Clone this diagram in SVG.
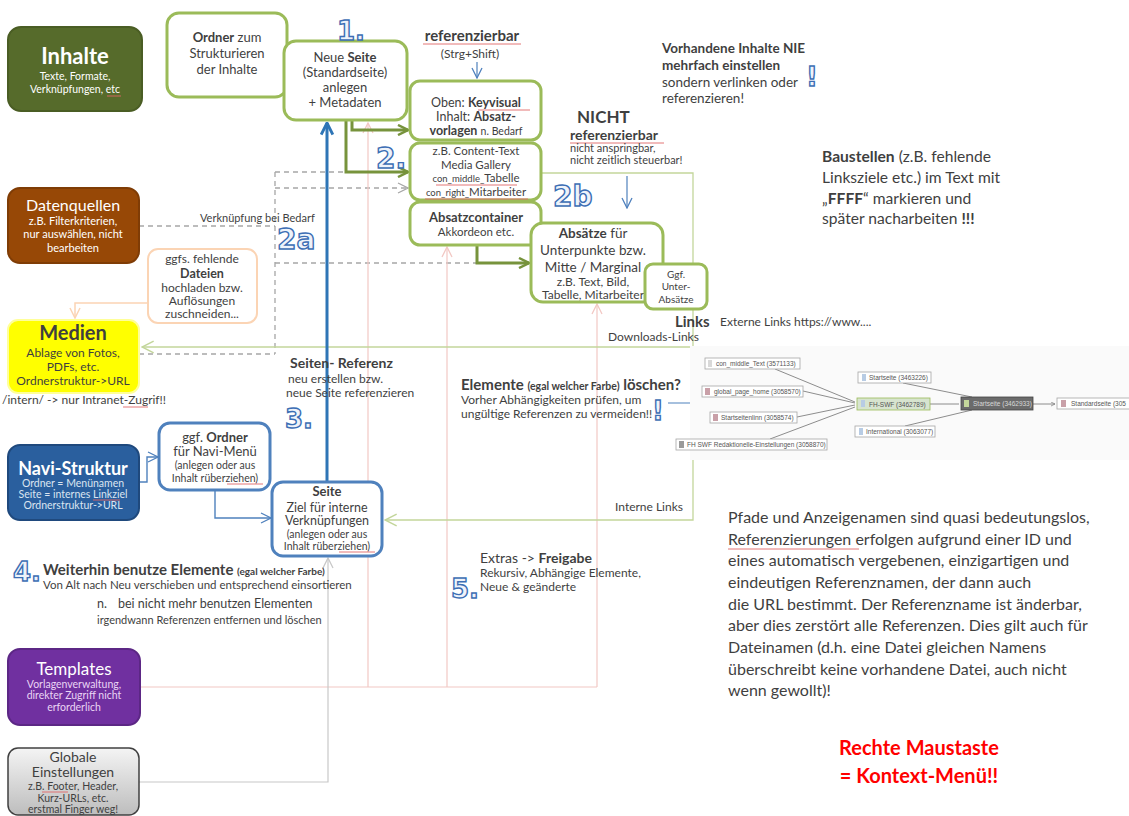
<svg xmlns="http://www.w3.org/2000/svg" width="1129" height="816" viewBox="0 0 1129 816">
<defs>
<style>
.t{font-family:Lato,'Open Sans','Liberation Sans',sans-serif;fill:#3f3f3f}
.b{font-weight:bold}
.c{text-anchor:middle}
.w{fill:#ffffff}
.lb{fill:#dbe5f1}
.lp{fill:#ead5f5}
.num{font-family:'DejaVu Sans',sans-serif;font-weight:bold;fill:#eef3fa;stroke:#3c6eb4;stroke-width:1.4}
.gbox{fill:#fff;stroke:#9bbb59;stroke-width:3}
.bbox{fill:#fff;stroke:#4f81bd;stroke-width:3}
.gl{fill:none;stroke:#77933c;stroke-width:3}
.bl{fill:none;stroke:#2e75b6;stroke-width:3}
.lg{fill:none;stroke:#c3d69b;stroke-width:1.3}
.pk{fill:none;stroke:#f2c8c4;stroke-width:1.2}
.ds{fill:none;stroke:#a6a6a6;stroke-width:1.3;stroke-dasharray:5 4}
.gy{fill:none;stroke:#c8c8c8;stroke-width:1.2}
.sp{stroke:#e06666;stroke-width:0.9}
.gn{fill:#fff;stroke:#a6a6a6;stroke-width:0.8}
.gt{font-family:'Liberation Sans',sans-serif;font-size:6.5px;fill:#555}
.gtd{fill:#d8d8d8}
.ge{stroke:#808080;stroke-width:0.9;fill:none}
.red{fill:#ff0000}
</style>
<marker id="mG" viewBox="0 0 12 12" markerWidth="12" markerHeight="12" refX="11" refY="6" orient="auto" markerUnits="userSpaceOnUse"><path d="M1,1 L11,6 L1,11" fill="none" stroke="#77933c" stroke-width="2.5"/></marker>
<marker id="mB" viewBox="0 0 12 12" markerWidth="14" markerHeight="14" refX="11" refY="6" orient="auto" markerUnits="userSpaceOnUse"><path d="M1,1 L11,6 L1,11" fill="none" stroke="#2e75b6" stroke-width="2.5"/></marker>
<marker id="mBt" viewBox="0 0 12 12" markerWidth="12" markerHeight="12" refX="11" refY="6" orient="auto" markerUnits="userSpaceOnUse"><path d="M1,1 L11,6 L1,11" fill="none" stroke="#4f81bd" stroke-width="1.3"/></marker>
<marker id="mL" viewBox="0 0 12 12" markerWidth="14" markerHeight="14" refX="11" refY="6" orient="auto" markerUnits="userSpaceOnUse"><path d="M1,1 L11,6 L1,11" fill="none" stroke="#c3d69b" stroke-width="1.3"/></marker>
<marker id="mP" viewBox="0 0 12 12" markerWidth="12" markerHeight="12" refX="11" refY="6" orient="auto" markerUnits="userSpaceOnUse"><path d="M1,1 L11,6 L1,11" fill="none" stroke="#f2c8c4" stroke-width="1.3"/></marker>
<marker id="mD" viewBox="0 0 12 12" markerWidth="12" markerHeight="12" refX="11" refY="6" orient="auto" markerUnits="userSpaceOnUse"><path d="M1,1 L11,6 L1,11" fill="none" stroke="#a6a6a6" stroke-width="1.3"/></marker>
<marker id="mY" viewBox="0 0 12 12" markerWidth="12" markerHeight="12" refX="11" refY="6" orient="auto" markerUnits="userSpaceOnUse"><path d="M1,1 L11,6 L1,11" fill="none" stroke="#c8c8c8" stroke-width="1.3"/></marker>
<marker id="mO" viewBox="0 0 12 12" markerWidth="12" markerHeight="12" refX="11" refY="6" orient="auto" markerUnits="userSpaceOnUse"><path d="M1,1 L11,6 L1,11" fill="none" stroke="#fbd4b4" stroke-width="1.5"/></marker>
<marker id="mS" viewBox="0 0 10 10" markerWidth="5" markerHeight="5" refX="9" refY="5" orient="auto" markerUnits="userSpaceOnUse"><path d="M1,1 L9,5 L1,9" fill="none" stroke="#808080" stroke-width="1.5"/></marker>
<linearGradient id="gg" x1="0" y1="0" x2="0" y2="1"><stop offset="0" stop-color="#f4f4f4"/><stop offset="1" stop-color="#bdbdbd"/></linearGradient>
</defs>
<rect width="1129" height="816" fill="#ffffff"/>

<g id="connectors">
<polyline class="ds" points="139,226 275,226"/>
<polyline class="ds" points="275,172 275,354"/>
<polyline class="ds" points="139,354 275,354"/>
<polyline class="ds" points="275,172 346,172"/>
<polyline class="ds" points="275,188 408,188" marker-end="url(#mD)"/>
<polyline class="ds" points="275,263 476,263"/>
<polyline class="pk" points="140,687 597,687"/>
<polyline class="pk" points="368,687 368,123" marker-end="url(#mP)"/>
<polyline class="pk" points="447,687 447,247" marker-end="url(#mP)"/>
<polyline class="pk" points="597,687 597,304" marker-end="url(#mP)"/>
<polyline class="gy" points="139,782 328,782 328,558" marker-end="url(#mY)"/>
<polyline class="lg" points="542,173 693,173 693,520 385,520" marker-end="url(#mL)"/>
<polyline class="lg" points="693,347 142,347" marker-end="url(#mL)"/>
<polyline points="147,303 75,303 75,318" fill="none" stroke="#fbd4b4" stroke-width="1.5" marker-end="url(#mO)"/>
<polyline class="gl" points="352,120 352,130 408,130" marker-end="url(#mG)"/>
<polyline class="gl" points="346,120 346,172 408,172" marker-end="url(#mG)"/>
<polyline class="gl" points="477,245 477,263 529,263" marker-end="url(#mG)"/>
<polyline class="bl" points="327,481 327,123" marker-end="url(#mB)"/>
<polyline points="139,482 147,482 147,457 158,457" fill="none" stroke="#4f81bd" stroke-width="1.4" marker-end="url(#mBt)"/>
<polyline points="215,490 215,518 271,518" fill="none" stroke="#4f81bd" stroke-width="1.4" marker-end="url(#mBt)"/>
<line x1="477" y1="62" x2="477" y2="78" stroke="#4f81bd" stroke-width="1.2" marker-end="url(#mBt)"/>
<line x1="627" y1="176" x2="627" y2="208" stroke="#4f81bd" stroke-width="1.2" marker-end="url(#mBt)"/>
<line x1="668" y1="403" x2="717" y2="403" stroke="#4f81bd" stroke-width="1.2" marker-end="url(#mBt)"/>
</g>

<g id="inhalte">
<rect x="8" y="27" width="134" height="84" rx="13" fill="#566b2b" stroke="#4a5d24" stroke-width="2"/>
<text x="75" y="64" class="t w c b" font-size="22">Inhalte</text>
<text x="75" y="80" class="t w c" font-size="10.5">Texte, Formate,</text>
<text x="75" y="93" class="t w c" font-size="10.5">Verknüpfungen, etc</text>
<line x1="107" y1="96" x2="121" y2="96" class="sp"/>
</g>

<g id="ordner-struktur">
<rect x="167" y="13" width="120" height="84" rx="12" class="gbox"/>
<text x="227" y="42" class="t c" font-size="13"><tspan class="b">Ordner</tspan> zum</text>
<text x="227" y="58" class="t c" font-size="13">Strukturieren</text>
<text x="227" y="74" class="t c" font-size="13">der Inhalte</text>
</g>

<g id="neue-seite">
<rect x="284" y="41" width="123" height="79" rx="12" class="gbox"/>
<text x="345" y="62" class="t c" font-size="13">Neue <tspan class="b">Seite</tspan></text>
<text x="345" y="77" class="t c" font-size="13">(Standardseite)</text>
<text x="345" y="92" class="t c" font-size="13">anlegen</text>
<text x="345" y="107" class="t c" font-size="13">+ Metadaten</text>
</g>

<g id="referenzierbar">
<text x="472" y="41" class="t c b" font-size="15">referenzierbar</text>
<line x1="423" y1="44" x2="521" y2="44" class="sp"/>
<text x="470" y="58" class="t c" font-size="12">(Strg+Shift)</text>
</g>

<g id="keyvisual">
<rect x="410" y="81" width="131" height="59" rx="10" class="gbox"/>
<text x="476" y="107" class="t c" font-size="12.5">Oben: <tspan class="b">Keyvisual</tspan></text>
<line x1="478" y1="110" x2="530" y2="110" class="sp"/>
<text x="476" y="121" class="t c" font-size="12.5">Inhalt: <tspan class="b">Absatz-</tspan></text>
<text x="476" y="135" class="t c" font-size="12.5"><tspan class="b">vorlagen</tspan> <tspan font-size="10.5">n. Bedarf</tspan></text>
</g>

<g id="content-elemente">
<rect x="410" y="143" width="131" height="57" rx="10" class="gbox"/>
<text x="476" y="155" class="t c" font-size="11.5">z.B. Content-Text</text>
<text x="476" y="169" class="t c" font-size="11.5">Media Gallery</text>
<text x="476" y="182" class="t c" font-size="11.5"><tspan font-size="9.5">con_middle_</tspan>Tabelle</text>
<line x1="436" y1="185" x2="517" y2="185" class="sp"/>
<text x="476" y="196" class="t c" font-size="11.5"><tspan font-size="9.5">con_right_</tspan>Mitarbeiter</text>
<line x1="425" y1="199" x2="528" y2="199" class="sp"/>
</g>

<g id="absatzcontainer">
<rect x="410" y="202" width="131" height="43" rx="10" class="gbox"/>
<text x="476" y="222" class="t c b" font-size="13">Absatzcontainer</text>
<text x="476" y="236" class="t c" font-size="11.5">Akkordeon etc.</text>
</g>

<g id="absaetze">
<rect x="531" y="223" width="132" height="79" rx="12" class="gbox"/>
<text x="593" y="238" class="t c" font-size="13.5"><tspan class="b">Absätze</tspan> für</text>
<text x="593" y="255" class="t c" font-size="13.5">Unterpunkte bzw.</text>
<text x="593" y="272" class="t c" font-size="13.5">Mitte / Marginal</text>
<text x="593" y="286" class="t c" font-size="12">z.B. Text, Bild,</text>
<text x="593" y="299" class="t c" font-size="12">Tabelle, Mitarbeiter</text>
</g>

<g id="unter-absaetze">
<rect x="645" y="264" width="62" height="45" rx="8" class="gbox"/>
<text x="676" y="278" class="t c" font-size="10">Ggf.</text>
<text x="676" y="290" class="t c" font-size="10">Unter-</text>
<text x="676" y="303" class="t c" font-size="10">Absätze</text>
</g>

<g id="nicht-referenzierbar">
<text x="577" y="123" class="t b" font-size="17">NICHT</text>
<text x="570" y="140" class="t b" font-size="14">referenzierbar</text>
<line x1="570" y1="143" x2="664" y2="143" class="sp"/>
<text x="570" y="152" class="t" font-size="11">nicht anspringbar,</text>
<text x="570" y="164" class="t" font-size="11">nicht zeitlich steuerbar!</text>
</g>

<g id="numbers">
<text x="337" y="40" class="num" font-size="26">1.</text>
<text x="376" y="168" class="num" font-size="28">2.</text>
<text x="277" y="249" class="num" font-size="28">2a</text>
<text x="553" y="206" class="num" font-size="28">2b</text>
<text x="285" y="428" class="num" font-size="26">3.</text>
<text x="13" y="581" class="num" font-size="26">4.</text>
<text x="451" y="598" class="num" font-size="26">5.</text>
<text x="806" y="86" class="num" font-size="26">!</text>
<text x="652" y="420" class="num" font-size="26">!</text>
</g>

<g id="vorhandene-inhalte">
<text x="662" y="53" class="t b" font-size="13.5">Vorhandene Inhalte NIE</text>
<text x="662" y="70" class="t b" font-size="13.5">mehrfach einstellen</text>
<text x="662" y="87" class="t" font-size="13.5">sondern verlinken oder</text>
<text x="662" y="103" class="t" font-size="13.5">referenzieren!</text>
</g>

<g id="baustellen">
<text x="822" y="162" class="t" font-size="15.6"><tspan class="b">Baustellen</tspan> (z.B. fehlende</text>
<text x="822" y="183" class="t" font-size="15.6">Linksziele etc.) im Text mit</text>
<text x="822" y="204" class="t" font-size="15.6">„<tspan class="b">FFFF</tspan>“ markieren und</text>
<text x="822" y="224" class="t" font-size="15.6">später nacharbeiten <tspan class="b">!!!</tspan></text>
</g>

<g id="datenquellen">
<rect x="8" y="188" width="131" height="75" rx="12" fill="#974806" stroke="#7f3c05" stroke-width="2"/>
<text x="73" y="211" class="t w c" font-size="16">Datenquellen</text>
<text x="73" y="225" class="t w c" font-size="11">z.B. Filterkriterien,</text>
<text x="73" y="238" class="t w c" font-size="11">nur auswählen, nicht</text>
<text x="73" y="252" class="t w c" font-size="11">bearbeiten</text>
</g>
<text x="200" y="222" class="t" font-size="11">Verknüpfung bei Bedarf</text>

<g id="fehlende-dateien">
<rect x="148" y="249" width="109" height="74" rx="10" fill="#fff" stroke="#fbd4b4" stroke-width="2"/>
<text x="202" y="263" class="t c" font-size="12">ggfs. fehlende</text>
<text x="202" y="278" class="t c b" font-size="12.5">Dateien</text>
<text x="202" y="292" class="t c" font-size="12">hochladen bzw.</text>
<text x="202" y="305" class="t c" font-size="12">Auflösungen</text>
<text x="202" y="318" class="t c" font-size="12">zuschneiden...</text>
</g>

<g id="medien">
<rect x="8" y="320" width="131" height="73" rx="10" fill="#ffff00" stroke="#ffff99" stroke-width="2"/>
<text x="73" y="340" class="t c b" font-size="20">Medien</text>
<text x="73" y="357" class="t c" font-size="12">Ablage von Fotos,</text>
<text x="73" y="371" class="t c" font-size="12">PDFs, etc.</text>
<text x="73" y="385" class="t c" font-size="12">Ordnerstruktur-&gt;URL</text>
</g>
<text x="2" y="404" class="t" font-size="12">/intern/ -&gt; nur Intranet-Zugrif!!</text>
<line x1="123" y1="407" x2="148" y2="407" class="sp"/>

<g id="links-labels">
<text x="675" y="327" class="t b" font-size="15">Links</text>
<text x="720" y="326" class="t" font-size="12">Externe Links https://www....</text>
<text x="608" y="341" class="t" font-size="12">Downloads-Links</text>
<text x="683" y="511" class="t" font-size="12" text-anchor="end">Interne Links</text>
</g>

<g id="seiten-referenz">
<text x="290" y="368" class="t b" font-size="14">Seiten- Referenz</text>
<text x="288" y="383" class="t" font-size="12">neu erstellen bzw.</text>
<text x="286" y="397" class="t" font-size="12">neue Seite referenzieren</text>
</g>

<g id="elemente-loeschen">
<text x="461" y="390" class="t b" font-size="15">Elemente <tspan font-size="10.5">(egal welcher Farbe)</tspan> löschen?</text>
<text x="461" y="404" class="t" font-size="12">Vorher Abhängigkeiten prüfen, um</text>
<text x="461" y="418" class="t" font-size="12">ungültige Referenzen zu vermeiden!!</text>
</g>

<g id="graph">
<rect x="690" y="346" width="439" height="114" fill="#fafafa"/>
<path class="ge" d="M775,369 L855,402 M803,391 L855,403 M797,417 L855,405 M770,439 L855,407 M930,404 L959,404 M903,383 L972,397 M905,426 L972,410 M1033,404 L1055,404" marker-end="url(#mS)"/>
<rect x="705" y="358" width="95" height="11" class="gn"/><rect x="708" y="360" width="4" height="7" fill="#d9d9d9"/><text x="716" y="366" class="gt">con_middle_Text (3571133)</text>
<rect x="702" y="386" width="101" height="11" class="gn"/><rect x="705" y="388" width="5" height="7" fill="#c9a0a8"/><text x="714" y="394" class="gt">global_page_home (3058570)</text>
<rect x="710" y="412" width="87" height="11" class="gn"/><rect x="713" y="414" width="5" height="7" fill="#c9a0a8"/><text x="721" y="420" class="gt">Startseitenlinn (3058574)</text>
<rect x="676" y="439" width="151" height="11" class="gn"/><rect x="679" y="441" width="5" height="7" fill="#9a9a9a"/><text x="687" y="447" class="gt">FH SWF Redaktionelle-Einstellungen (3058870)</text>
<rect x="858" y="372" width="73" height="11" class="gn"/><rect x="862" y="374" width="4" height="7" fill="#b8cce4"/><text x="869" y="380" class="gt">Startseite (3463226)</text>
<rect x="857" y="398" width="73" height="12" fill="#d7e4cf" stroke="#9bbb59" stroke-width="0.8"/><rect x="861" y="400" width="4" height="7" fill="#b8cce4"/><text x="869" y="407" class="gt">FH-SWF (3462789)</text>
<rect x="855" y="426" width="80" height="11" class="gn"/><rect x="859" y="428" width="4" height="7" fill="#b8cce4"/><text x="866" y="434" class="gt">International (3063077)</text>
<rect x="961" y="397" width="72" height="13" fill="#6b6b6b" stroke="#444" stroke-width="0.8"/><rect x="964" y="400" width="5" height="7" fill="#c4d79b"/><text x="973" y="406" class="gt gtd">Startseite (3462933)</text>
<rect x="1057" y="398" width="80" height="11" class="gn"/><rect x="1061" y="400" width="5" height="7" fill="#c9a0a8"/><text x="1071" y="406" class="gt">Standardseite (305</text>
</g>

<g id="navi-struktur">
<rect x="8" y="445" width="131" height="75" rx="12" fill="#2a5f9e" stroke="#1f497d" stroke-width="2"/>
<text x="73" y="475" class="t w c b" font-size="18">Navi-Struktur</text>
<text x="73" y="487" class="t c lb" font-size="10.5">Ordner = Menünamen</text>
<text x="73" y="498" class="t c lb" font-size="10.5">Seite = internes Linkziel</text>
<line x1="93" y1="500" x2="120" y2="500" class="sp"/>
<text x="73" y="509" class="t c lb" font-size="10.5">Ordnerstruktur-&gt;URL</text>
</g>

<g id="ordner-navi">
<rect x="159" y="423" width="111" height="67" rx="11" class="bbox"/>
<text x="215" y="442" class="t c" font-size="13">ggf. <tspan class="b">Ordner</tspan></text>
<text x="215" y="456" class="t c" font-size="13">für Navi-Menü</text>
<text x="215" y="469" class="t c" font-size="10.5">(anlegen oder aus</text>
<text x="215" y="482" class="t c" font-size="10.5">Inhalt rüberziehen)</text>
<line x1="227" y1="484" x2="263" y2="484" class="sp"/>
</g>

<g id="seite">
<rect x="272" y="482" width="110" height="74" rx="11" class="bbox"/>
<text x="327" y="496" class="t c b" font-size="13">Seite</text>
<text x="327" y="512" class="t c" font-size="12.5">Ziel für interne</text>
<text x="327" y="525" class="t c" font-size="12.5">Verknüpfungen</text>
<text x="327" y="538" class="t c" font-size="10.5">(anlegen oder aus</text>
<text x="327" y="550" class="t c" font-size="10.5">Inhalt rüberziehen)</text>
<line x1="339" y1="552" x2="375" y2="552" class="sp"/>
</g>

<g id="weiterhin">
<text x="43" y="575" class="t b" font-size="15">Weiterhin benutze Elemente <tspan font-size="10">(egal welcher Farbe)</tspan></text>
<text x="43" y="589" class="t" font-size="11.5">Von Alt nach Neu verschieben und entsprechend einsortieren</text>
<text x="97" y="608" class="t" font-size="12.5">n.</text>
<text x="118" y="608" class="t" font-size="12.5">bei nicht mehr benutzen Elementen</text>
<text x="97" y="624" class="t" font-size="11">irgendwann Referenzen entfernen und löschen</text>
</g>

<g id="freigabe">
<text x="480" y="563" class="t" font-size="14">Extras -&gt; <tspan class="b">Freigabe</tspan></text>
<text x="480" y="577" class="t" font-size="12">Rekursiv, Abhängige Elemente,</text>
<text x="480" y="591" class="t" font-size="12">Neue &amp; geänderte</text>
</g>

<g id="templates">
<rect x="8" y="649" width="132" height="76" rx="12" fill="#7030a0" stroke="#5c2785" stroke-width="2"/>
<text x="74" y="675" class="t w c" font-size="17">Templates</text>
<text x="74" y="688" class="t c lp" font-size="10.5">Vorlagenverwaltung,</text>
<text x="74" y="699" class="t c lp" font-size="10.5">direkter  Zugriff nicht</text>
<text x="74" y="711" class="t c lp" font-size="10.5">erforderlich</text>
</g>

<g id="globale-einstellungen">
<rect x="8" y="748" width="131" height="67" rx="10" fill="url(#gg)" stroke="#404040" stroke-width="1.5"/>
<text x="73" y="762" class="t c" font-size="14">Globale</text>
<text x="73" y="777" class="t c" font-size="14">Einstellungen</text>
<text x="73" y="790" class="t c" font-size="10.5">z.B. Footer, Header,</text>
<line x1="42" y1="792" x2="68" y2="792" class="sp"/>
<text x="73" y="802" class="t c" font-size="10.5">Kurz-URLs, etc.</text>
<text x="73" y="813" class="t c" font-size="10.5">erstmal Finger weg!</text>
</g>

<g id="pfade">
<text x="728" y="523" class="t" font-size="16">Pfade und Anzeigenamen sind quasi bedeutungslos,</text>
<text x="728" y="545" class="t" font-size="16">Referenzierungen erfolgen aufgrund einer ID und</text>
<line x1="728" y1="549" x2="859" y2="549" class="sp"/>
<text x="728" y="566" class="t" font-size="16">eines automatisch vergebenen, einzigartigen und</text>
<text x="728" y="588" class="t" font-size="16">eindeutigen Referenznamen, der dann auch</text>
<text x="728" y="610" class="t" font-size="16">die URL bestimmt. Der Referenzname ist änderbar,</text>
<text x="728" y="631" class="t" font-size="16">aber dies zerstört alle Referenzen. Dies gilt auch für</text>
<text x="728" y="653" class="t" font-size="16">Dateinamen (d.h. eine Datei gleichen Namens</text>
<text x="728" y="675" class="t" font-size="16">überschreibt keine vorhandene Datei, auch nicht</text>
<text x="728" y="696" class="t" font-size="16">wenn gewollt)!</text>
</g>

<g id="rechte-maustaste">
<text x="919" y="755" class="t c b red" font-size="20">Rechte Maustaste</text>
<text x="919" y="783" class="t c b red" font-size="20">= Kontext-Menü!!</text>
</g>
</svg>
